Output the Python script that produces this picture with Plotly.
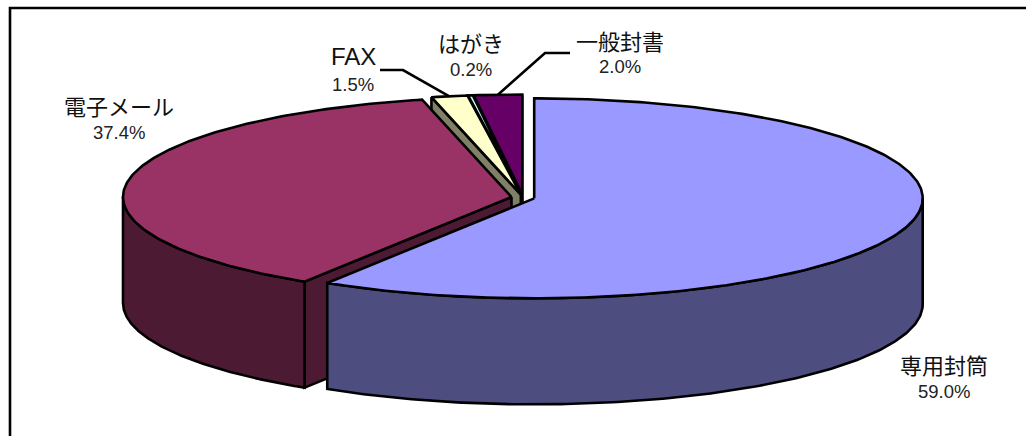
import numpy as np
import plotly.graph_objects as go

# --- data ---
categories = ["専用封筒", "電子メール", "FAX", "はがき", "一般封書"]
values = [59.0, 37.4, 1.5, 0.2, 2.0]

# --- styles / layout ---
top_colors = ["#9999FF", "#993366", "#FFFFCC", "#CCFFFF", "#660066"]
wall_colors = ["#4D4D80", "#4D1A33", "#808066", "#668080", "#330033"]
W, H = 1026, 436
CX, CY = 523.0, 197.5
RX, RY = 388.5, 100.0
DEPTH = 106.0
EXPLODE = 0.03
LW = 2.6
label_centers = [(944, 364, 391), (119, 105, 132), (353, 56, 84), (471, 42, 69), (620, 40, 66)]
leader_elbows = {2: [(380, 70), (403, 70)], 4: [(570, 53), (545, 53)]}

total = sum(values)
edges = np.concatenate([[0.0], np.cumsum(values)]) / total * 2 * np.pi


def rim(a, cx, cy):
    return cx + RX * np.sin(a), cy - RY * np.cos(a)


fig = go.Figure()


def poly(xs, ys, color):
    fig.add_trace(go.Scatter(
        x=list(xs) + [xs[0]], y=list(ys) + [ys[0]], mode="lines", fill="toself",
        fillcolor=color, line=dict(color="black", width=LW), hoverinfo="skip", showlegend=False))


# painter's order: back slices first, blue slice last
anchors = {}
for i in reversed(range(len(values))):
    a0, a1 = edges[i], edges[i + 1]
    mid = (a0 + a1) / 2
    cx = CX + EXPLODE * RX * np.sin(mid)
    cy = CY - EXPLODE * RY * np.cos(mid)
    # radial walls
    if np.sin(a0) < 0:
        x0, y0 = rim(a0, cx, cy)
        poly([cx, x0, x0, cx], [cy, y0, y0 + DEPTH, cy + DEPTH], wall_colors[i])
    if np.sin(a1) > 0:
        x1, y1 = rim(a1, cx, cy)
        poly([cx, x1, x1, cx], [cy, y1, y1 + DEPTH, cy + DEPTH], wall_colors[i])
    # outer wall over the front half of the ellipse
    lo, hi = max(a0, np.pi / 2), min(a1, 3 * np.pi / 2)
    if lo < hi:
        t = np.linspace(lo, hi, 160)
        xa, ya = rim(t, cx, cy)
        poly(np.concatenate([xa, xa[::-1]]), np.concatenate([ya, ya[::-1] + DEPTH]), wall_colors[i])
    # top face
    t = np.linspace(a0, a1, max(3, int((a1 - a0) * 80)))
    xa, ya = rim(t, cx, cy)
    poly(np.concatenate([[cx], xa]), np.concatenate([[cy], ya]), top_colors[i])
    anchors[i] = rim(mid, cx, cy)

# leader lines
for i, pts in leader_elbows.items():
    xs = [p[0] for p in pts] + [anchors[i][0]]
    ys = [p[1] for p in pts] + [anchors[i][1]]
    fig.add_trace(go.Scatter(x=xs, y=ys, mode="lines", line=dict(color="black", width=LW),
                             hoverinfo="skip", showlegend=False))

# labels
for name, val, (lx, ly1, ly2) in zip(categories, values, label_centers):
    is_latin = name == "FAX"
    fig.add_annotation(x=lx, y=ly1, text=name, showarrow=False, xanchor="center", yanchor="middle",
                       font=dict(family="Liberation Sans" if is_latin else "Noto Sans CJK JP",
                                 size=24 if is_latin else 22, color="#111111"))
    fig.add_annotation(x=lx, y=ly2, text=f"{val:.1f}%", showarrow=False, xanchor="center", yanchor="middle",
                       font=dict(family="Liberation Sans", size=18.5, color="#222222"))

fig.update_layout(
    width=W, height=H, margin=dict(l=0, r=0, t=0, b=0),
    paper_bgcolor="white", plot_bgcolor="white",
    xaxis=dict(range=[0, W], visible=False, fixedrange=True),
    yaxis=dict(range=[H, 0], visible=False, fixedrange=True),
    shapes=[dict(type="rect", x0=10, y0=8, x1=1040, y1=450, line=dict(color="black", width=2.6))],
)
fig.write_html("out.html", config=dict(displayModeBar=False),
               post_script="document.body.style.margin='0';document.documentElement.style.overflow='hidden';")
